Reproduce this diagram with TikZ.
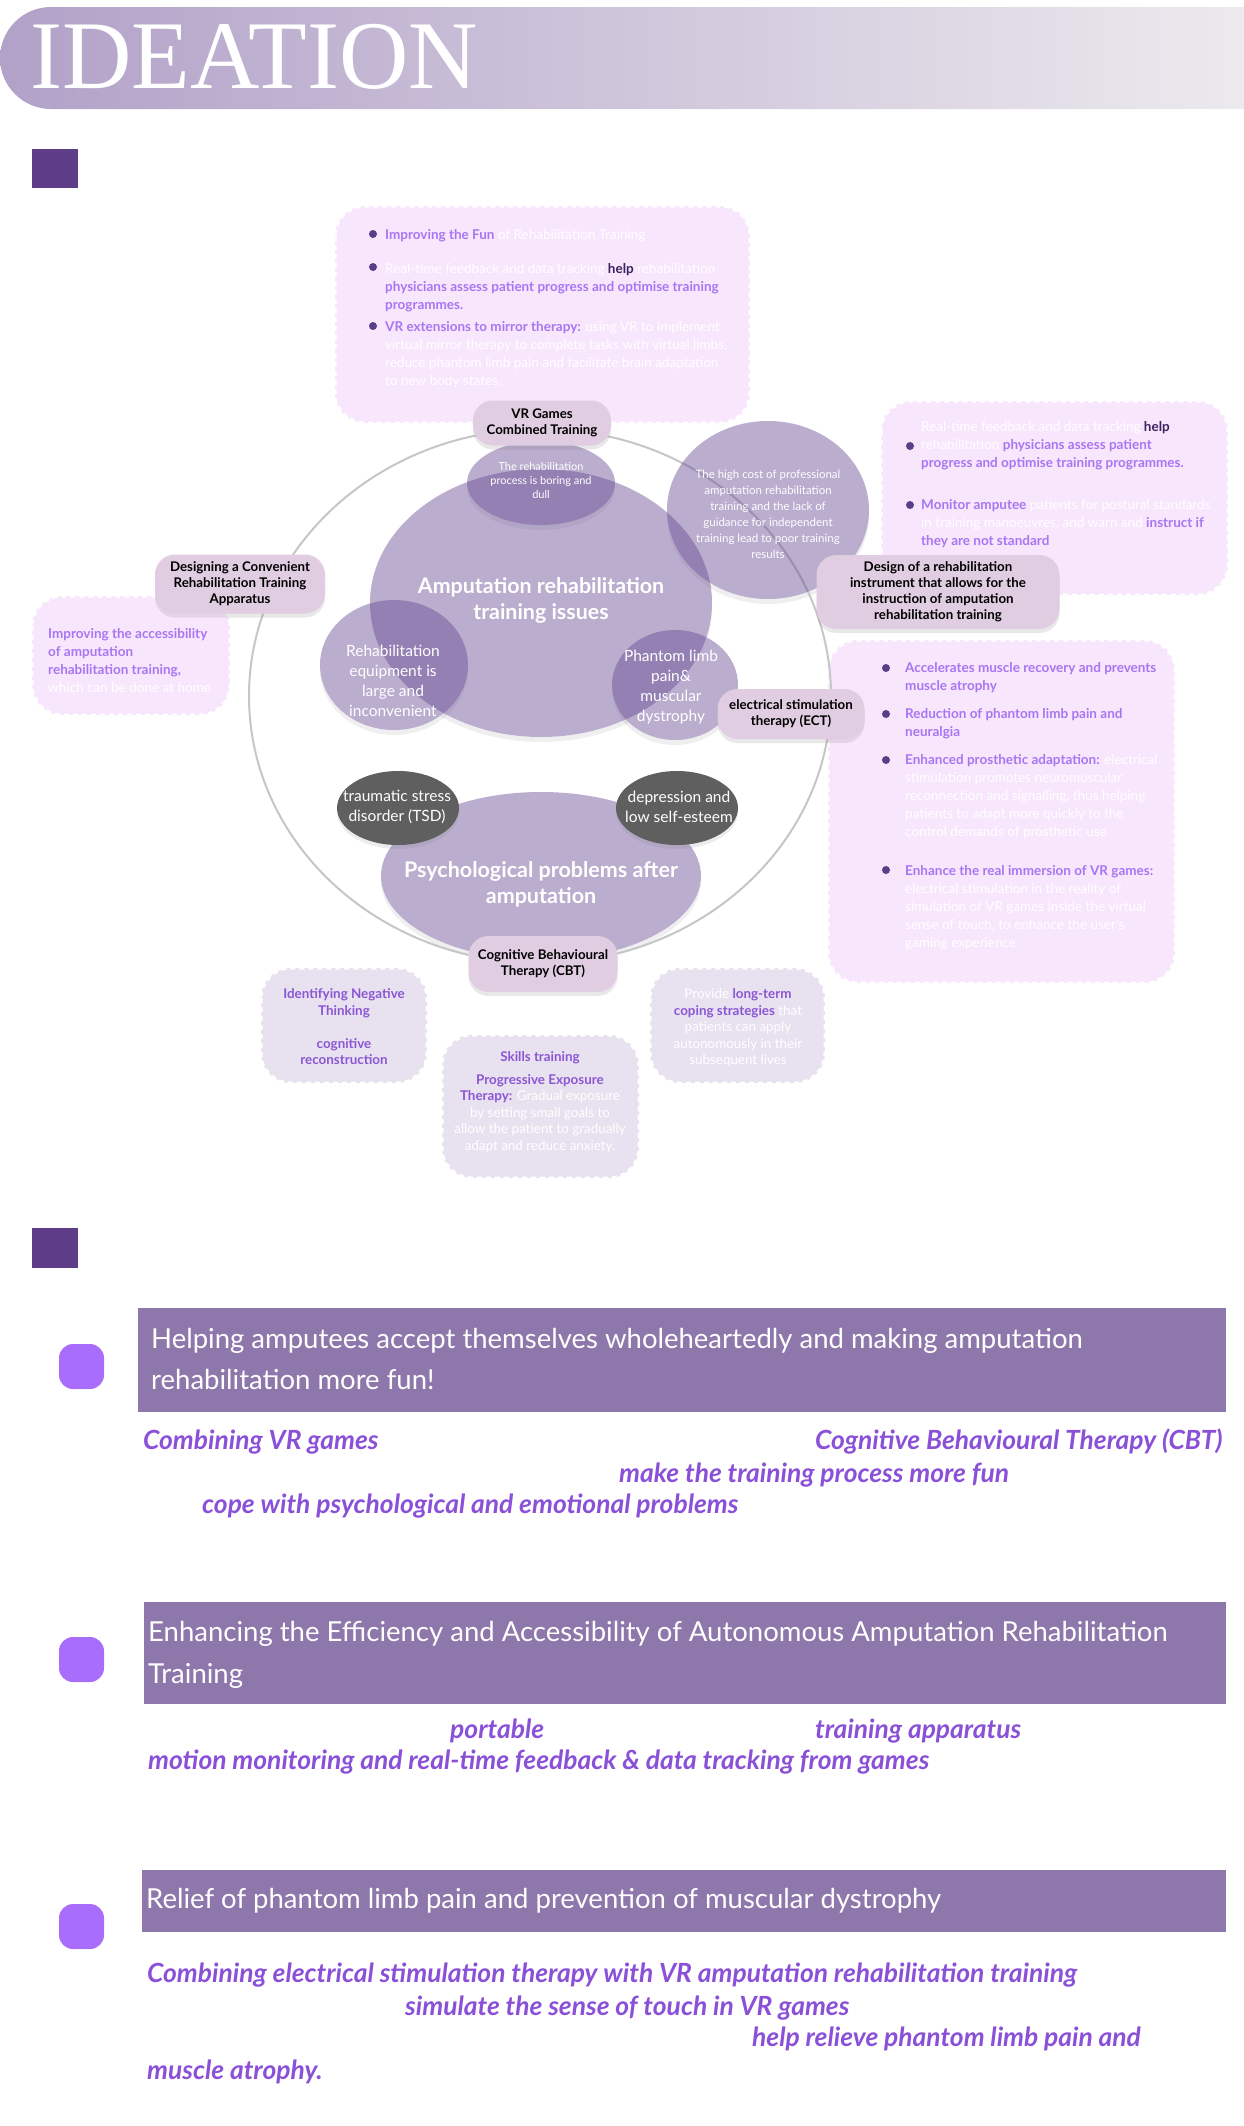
\documentclass[tikz,border=0pt]{standalone}
\usepackage{fontspec}
\setmainfont{Lato}
\newfontfamily\titlefont[FakeStretch=0.99]{Liberation Serif}
\usetikzlibrary{shapes.geometric,shadows}

\definecolor{titleleft}{HTML}{B2A1C8}
\definecolor{titleright}{HTML}{EEEDEF}
\definecolor{markpurple}{HTML}{5E3C87}
\definecolor{notepink}{HTML}{F8E6FD}
\definecolor{notelav}{HTML}{E8E1EF}
\definecolor{notepurple}{HTML}{A876F2}
\definecolor{lavpurple}{HTML}{8B56D4}
\definecolor{dotpurple}{HTML}{5B3E87}
\definecolor{helpdark}{HTML}{3A2360}
\definecolor{blobbase}{HTML}{6A4D96}
\definecolor{blobdark}{HTML}{5F5F5F}
\definecolor{ringgray}{HTML}{C6C6C6}
\definecolor{tagfill}{HTML}{E0CDE1}
\definecolor{bandpurple}{HTML}{8E77AB}
\definecolor{pillpurple}{HTML}{A96DFB}
\definecolor{ideapurple}{HTML}{8A50D8}

\newcommand{\notehl}[1]{{\bfseries\color{notepurple}#1}}
\newcommand{\lavhl}[1]{{\bfseries\color{lavpurple}#1}}
\newcommand{\helpword}[1]{{\bfseries\color{helpdark}#1}}

\begin{document}
\begin{tikzpicture}[x=1pt,y=-1pt,
	notebox/.style={fill=notepink, draw=white, line width=3pt, dash pattern=on 5pt off 4pt, rounded corners=30pt},
	lavbox/.style={notebox, fill=notelav},
	note/.style={anchor=west, align=left, inner sep=0pt, text=white, font=\fontsize{13.5}{18}\selectfont},
	lavnote/.style={align=center, inner sep=0pt, text=white, font=\fontsize{13.4}{16.5}\selectfont},
	tagbox/.style={rectangle, rounded corners=20pt, fill=tagfill, align=center, inner sep=2pt,
		font=\fontsize{13.3}{16}\selectfont\bfseries, drop shadow={opacity=0.18, shadow xshift=0pt, shadow yshift=-4pt}},
	blobtext/.style={align=center, inner sep=0pt, text=white},
	bandtext/.style={anchor=west, align=left, inner sep=0pt, text=white},
	ideatext/.style={anchor=west, inner sep=0pt, text=ideapurple, font=\fontsize{26.4}{30}\selectfont\bfseries\itshape}]
	\useasboundingbox (0,0) rectangle (1243,2126);

	% title
	\shade[left color=titleleft, right color=titleright, rounded corners=51pt] (0,7) rectangle (1300,109);
	\node[anchor=base west, inner sep=0pt, text=white, font=\titlefont\fontsize{97}{97}\selectfont] (title) at (30,88) {IDEATION};
	\fill[markpurple] (32,149) rectangle (78,188);

	% note boxes
	\draw[notebox] (335,206) rectangle (750,423);
	\draw[notebox] (881,401) rectangle (1228,595);
	\draw[notebox] (32,596) rectangle (230,715);
	\draw[notebox] (828,640) rectangle (1175,983);
	\draw[lavbox] (261,968) rectangle (427,1083);
	\draw[lavbox] (442,1035) rectangle (639,1178);
	\draw[lavbox] (650,968) rectangle (825,1083);

	\foreach \x/\y in {373/234, 373/267, 373/326, 910/446, 910/505, 886/668, 886/714, 886/760, 886/870}
		\fill[dotpurple] (\x,\y) circle (4pt);
	\node[note] (fun) at (385,236) {\notehl{Improving the Fun} of Rehabilitation Training};
	\node[note] (tracking) at (385,287.5) {Real-time feedback and data tracking \helpword{help} rehabilitation\\
		\notehl{physicians assess patient progress and optimise training}\\\notehl{programmes.}};
	\node[note] (mirror) at (385,355) {\notehl{VR extensions to mirror therapy:} using VR to implement\\
		virtual mirror therapy to complete tasks with virtual limbs,\\
		reduce phantom limb pain and facilitate brain adaptation\\to new body states.};
	\node[note] (feedback) at (921,446) {Real-time feedback and data tracking \helpword{help}\\
		rehabilitation \notehl{physicians assess patient}\\\notehl{progress and optimise training programmes.}};
	\node[note] (posture) at (921,524) {\notehl{Monitor amputee} patients for postural standards\\
		in training manoeuvres, and warn and \notehl{instruct if}\\\notehl{they are not standard}};
	\node[note] (home) at (48,661) {\notehl{Improving the accessibility}\\\notehl{of amputation}\\
		\notehl{rehabilitation training,}\\which can be done at home};
	\node[note] (recovery) at (905,678) {\notehl{Accelerates muscle recovery and prevents}\\\notehl{muscle atrophy}};
	\node[note] (neuralgia) at (905,724) {\notehl{Reduction of phantom limb pain and}\\\notehl{neuralgia}};
	\node[note] (prosthetic) at (905,797) {\notehl{Enhanced prosthetic adaptation:} electrical\\
		stimulation promotes neuromuscular\\reconnection and signalling, thus helping\\
		patients to adapt more quickly to the\\control demands of prosthetic use};
	\node[note] (immersion) at (905,908) {\notehl{Enhance the real immersion of VR games:}\\
		electrical stimulation in the reality of\\simulation of VR games inside the virtual\\
		sense of touch, to enhance the user's\\gaming experience};
	\node[lavnote] (negative) at (344,1027) {\lavhl{Identifying Negative}\\\lavhl{Thinking}\\[16.5pt]
		\lavhl{cognitive}\\\lavhl{reconstruction}};
	\node[lavnote] (skills) at (540,1102) {\lavhl{Skills training}\\[6pt]\lavhl{Progressive Exposure}\\
		\lavhl{Therapy:} Gradual exposure\\by setting small goals to\\allow the patient to gradually\\
		adapt and reduce anxiety.};
	\node[lavnote] (coping) at (738,1028) {Provide \lavhl{long-term}\\\lavhl{coping strategies} that\\
		patients can apply\\autonomously in their\\subsequent lives};

	% problem ellipses: shadows first, then the ring, then the tinted fills
	\foreach \cx/\cy/\rx/\ry in {541/603/171pt/134pt, 541/483/74pt/42pt, 394/665/74pt/65pt,
			675/685/63pt/55pt, 768/510/101pt/89pt, 541/876/160pt/84pt}
		\path[fill=white, drop shadow={opacity=0.13, shadow xshift=0pt, shadow yshift=-5pt}]
			(\cx,\cy) ellipse [x radius=\rx, y radius=\ry];
	\draw[ringgray, line width=2pt] (540,696) ellipse [x radius=291pt, y radius=267pt];
	\foreach \cx/\cy/\rx/\ry in {541/603/171pt/134pt, 541/483/74pt/42pt, 394/665/74pt/65pt,
			675/685/63pt/55pt, 768/510/101pt/89pt, 541/876/160pt/84pt}
		\fill[blobbase, fill opacity=0.46] (\cx,\cy) ellipse [x radius=\rx, y radius=\ry];
	\foreach \cx in {398,677}
		\fill[blobdark, drop shadow={opacity=0.15, shadow xshift=0pt, shadow yshift=-4pt}]
			(\cx,808) ellipse [x radius=61pt, y radius=37pt];

	\node[blobtext, font=\fontsize{21.4}{26}\selectfont\bfseries] (issues) at (541,600) {Amputation rehabilitation\\training issues};
	\node[blobtext, font=\fontsize{11}{14}\selectfont] (boring) at (541,480) {The rehabilitation\\process is boring and\\dull};
	\node[blobtext, font=\fontsize{11.5}{16}\selectfont] (cost) at (768,514) {The high cost of professional\\
		amputation rehabilitation\\training and the lack of\\guidance for independent\\training lead to poor training\\results};
	\node[blobtext, font=\fontsize{15.5}{20}\selectfont] (equipment) at (393,681) {Rehabilitation\\equipment is\\large and\\inconvenient};
	\node[blobtext, font=\fontsize{15.5}{20}\selectfont] (phantom) at (671,687) {Phantom limb\\pain\&\\muscular\\dystrophy};
	\node[blobtext, font=\fontsize{15.5}{20}\selectfont] (tsd) at (397,807) {traumatic stress\\disorder (TSD)};
	\node[blobtext, font=\fontsize{15.5}{20}\selectfont] (esteem) at (679,807) {depression and\\low self-esteem};
	\node[blobtext, font=\fontsize{21.5}{26}\selectfont\bfseries] (psych) at (541,884) {Psychological problems after\\amputation};

	% solution tags
	\node[tagbox, minimum width=138pt, minimum height=45pt] (vrgames) at (542,423) {VR Games\\Combined Training};
	\node[tagbox, minimum width=170pt, minimum height=59pt] (apparatus) at (240,584) {Designing a Convenient\\Rehabilitation Training\\Apparatus};
	\node[tagbox, minimum width=243pt, minimum height=74pt] (instrument) at (938,592) {Design of a rehabilitation\\
		instrument that allows for the\\instruction of amputation\\rehabilitation training};
	\node[tagbox, minimum width=147pt, minimum height=50pt] (ect) at (791,714) {electrical stimulation\\therapy (ECT)};
	\node[tagbox, minimum width=149pt, minimum height=56pt] (cbt) at (543,964) {Cognitive Behavioural\\Therapy (CBT)};

	% goals
	\fill[markpurple] (32,1228) rectangle (78,1268);
	\fill[bandpurple] (138,1308) rectangle (1226,1412);
	\fill[bandpurple] (144,1602) rectangle (1226,1704);
	\fill[bandpurple] (142,1870) rectangle (1226,1932);
	\foreach \y in {1344,1637,1904}
		\fill[pillpurple, rounded corners=14pt] (59,\y) rectangle (104,\y+45);
	\node[bandtext, font=\fontsize{27.5}{41}\selectfont] (accept) at (151,1358.5) {Helping amputees accept themselves wholeheartedly and making amputation\\
		rehabilitation more fun!};
	\node[bandtext, font=\fontsize{27.5}{42}\selectfont] (efficiency) at (148,1655) {Enhancing the Efficiency and Accessibility of Autonomous Amputation Rehabilitation\\Training};
	\node[bandtext, font=\fontsize{27.5}{42}\selectfont] (relief) at (146,1901) {Relief of phantom limb pain and prevention of muscular dystrophy};

	\node[ideatext] (vrcombine) at (143,1442) {Combining VR games};
	\node[ideatext] (cbtidea) at (815,1442) {Cognitive Behavioural Therapy (CBT)};
	\node[ideatext] (morefun) at (619,1475) {make the training process more fun};
	\node[ideatext] (cope) at (202,1506) {cope with psychological and emotional problems};
	\node[ideatext] (portable) at (450,1731) {portable};
	\node[ideatext] (trainapp) at (815,1731) {training apparatus};
	\node[ideatext] (monitor) at (148,1762) {motion monitoring and real-time feedback \& data tracking from games};
	\node[ideatext] (ectcombine) at (147,1975) {Combining electrical stimulation therapy with VR amputation rehabilitation training};
	\node[ideatext] (touch) at (405,2008) {simulate the sense of touch in VR games};
	\node[ideatext] (relieve) at (752,2039) {help relieve phantom limb pain and};
	\node[ideatext] (atrophy) at (147,2072) {muscle atrophy.};
\end{tikzpicture}
\end{document}
